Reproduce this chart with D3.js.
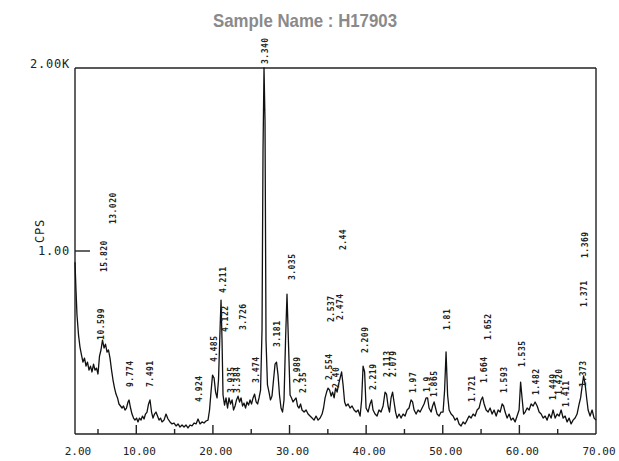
<!DOCTYPE html>
<html>
<head>
<meta charset="utf-8">
<script src="https://cdn.jsdelivr.net/npm/d3@7"></script>
<style>
  body { margin: 0; background: #fff; }
  svg { display: block; }
</style>
</head>
<body>
<div id="chart"></div>
<script>
// 2-theta (degrees) of the scan trace
const twoTheta = [
  2.0, 2.13, 2.26, 2.46, 2.65, 2.85, 3.04, 3.24, 3.44, 3.63, 3.83, 4.02, 4.22, 4.42, 4.61, 4.81, 5.0, 5.2, 5.39, 5.59,
  5.79, 5.98, 6.18, 6.37, 6.57, 6.77, 6.96, 7.16, 7.35, 7.55, 7.74, 7.94, 8.14, 8.33, 8.53, 8.72, 8.92, 9.05, 9.25, 9.44,
  9.64, 9.83, 10.03, 10.22, 10.42, 10.62, 10.81, 11.01, 11.2, 11.4, 11.6, 11.79, 11.99, 12.18, 12.38, 12.57, 12.77, 12.97, 13.16, 13.36,
  13.62, 13.88, 14.14, 14.4, 14.66, 14.92, 15.19, 15.45, 15.71, 15.97, 16.23, 16.49, 16.75, 17.01, 17.27, 17.54, 17.8, 18.06, 18.32, 18.58,
  18.84, 19.1, 19.36, 19.56, 19.75, 19.95, 20.15, 20.35, 20.54, 20.73, 20.93, 21.06, 21.19, 21.32, 21.52, 21.71, 21.91, 22.1, 22.3, 22.5,
  22.69, 22.89, 23.08, 23.28, 23.48, 23.67, 23.87, 24.06, 24.26, 24.45, 24.65, 24.85, 25.04, 25.24, 25.44, 25.64, 25.83, 26.02, 26.22, 26.41,
  26.54, 26.67, 26.8, 26.93, 27.12, 27.32, 27.51, 27.71, 27.91, 28.11, 28.3, 28.5, 28.69, 28.89, 29.09, 29.28, 29.48, 29.67, 29.87, 30.07,
  30.26, 30.46, 30.65, 30.85, 31.05, 31.24, 31.44, 31.63, 31.9, 32.16, 32.42, 32.68, 32.94, 33.2, 33.46, 33.73, 33.99, 34.25, 34.44, 34.64,
  34.84, 35.03, 35.23, 35.43, 35.62, 35.82, 36.01, 36.21, 36.41, 36.6, 36.8, 36.99, 37.19, 37.38, 37.64, 37.9, 38.16, 38.43, 38.69, 38.95,
  39.21, 39.41, 39.6, 39.8, 39.99, 40.25, 40.51, 40.71, 40.9, 41.16, 41.42, 41.68, 41.94, 42.21, 42.47, 42.66, 42.86, 43.05, 43.25, 43.45,
  43.64, 43.84, 44.04, 44.3, 44.56, 44.82, 45.08, 45.34, 45.6, 45.86, 46.06, 46.26, 46.52, 46.78, 47.04, 47.3, 47.56, 47.82, 48.02, 48.21,
  48.48, 48.67, 48.87, 49.06, 49.26, 49.52, 49.78, 50.04, 50.24, 50.43, 50.63, 50.83, 51.09, 51.35, 51.61, 51.87, 52.13, 52.39, 52.65, 52.91,
  53.17, 53.43, 53.7, 53.96, 54.22, 54.48, 54.74, 55.0, 55.2, 55.4, 55.66, 55.92, 56.18, 56.44, 56.7, 56.97, 57.23, 57.49, 57.75, 57.94,
  58.14, 58.4, 58.66, 58.92, 59.18, 59.44, 59.7, 59.96, 60.16, 60.35, 60.55, 60.75, 61.01, 61.27, 61.53, 61.79, 62.05, 62.32, 62.58, 62.84,
  63.1, 63.36, 63.62, 63.88, 64.14, 64.4, 64.67, 64.93, 65.19, 65.45, 65.71, 65.97, 66.23, 66.49, 66.75, 67.01, 67.27, 67.53, 67.8, 67.99,
  68.19, 68.38, 68.58, 68.78, 68.97, 69.23, 69.49, 69.75, 70.0
];

// counts per second, same order as twoTheta
const cps = [
  939, 786, 650, 541, 475, 431, 393, 415, 371, 393, 349, 371, 339, 382, 349, 360, 328, 426, 459, 513,
  470, 491, 448, 459, 415, 349, 295, 251, 218, 197, 164, 153, 142, 153, 131, 142, 175, 186, 142, 109,
  87, 76, 87, 66, 87, 76, 98, 82, 109, 120, 164, 186, 120, 87, 109, 120, 98, 76, 87, 66,
  76, 109, 82, 66, 55, 60, 44, 55, 38, 49, 38, 49, 33, 49, 44, 60, 55, 82, 55, 66,
  60, 71, 76, 131, 229, 322, 306, 229, 197, 295, 568, 732, 513, 213, 158, 197, 142, 197, 164, 186,
  131, 153, 186, 207, 175, 197, 153, 169, 142, 175, 158, 186, 164, 197, 218, 175, 164, 197, 240, 568,
  1551, 2000, 1714, 513, 268, 229, 186, 207, 295, 382, 393, 322, 213, 142, 120, 186, 513, 764, 486, 213,
  197, 175, 186, 197, 153, 142, 164, 131, 120, 131, 109, 98, 87, 76, 98, 76, 87, 109, 142, 197,
  229, 251, 240, 207, 229, 197, 251, 229, 273, 306, 339, 268, 175, 153, 164, 142, 153, 131, 120, 131,
  98, 186, 371, 339, 142, 120, 164, 186, 131, 109, 98, 131, 120, 153, 229, 218, 153, 120, 197, 229,
  175, 120, 87, 109, 87, 109, 98, 131, 142, 186, 175, 131, 109, 131, 120, 142, 164, 197, 197, 142,
  120, 153, 175, 142, 109, 98, 120, 120, 240, 448, 213, 131, 109, 98, 76, 87, 55, 44, 66, 55,
  76, 98, 87, 109, 98, 131, 142, 186, 202, 164, 131, 120, 142, 109, 131, 98, 131, 120, 164, 153,
  120, 87, 109, 76, 87, 66, 98, 131, 284, 197, 109, 120, 142, 131, 164, 153, 175, 153, 120, 109,
  87, 98, 76, 109, 87, 131, 87, 109, 98, 131, 87, 98, 66, 87, 55, 76, 87, 109, 164, 197,
  262, 317, 273, 197, 131, 98, 131, 87, 76
];

// d-spacing labels printed over the peaks
const peakText = [
  "15.820", "13.020", "10.599", "9.774", "7.491", "4.924", "4.485", "4.211", "4.122", "3.935",
  "3.384", "3.726", "3.474", "3.340", "3.181", "3.035", "2.989", "2.35", "2.554", "2.40",
  "2.537", "2.474", "2.44", "2.209", "2.219", "2.113", "2.079", "1.97", "1.9", "1.865",
  "1.81", "1.721", "1.664", "1.652", "1.593", "1.535", "1.482", "1.449", "1.420", "1.411",
  "1.373", "1.371", "1.369"
];
const peakTheta = [
  5.79, 6.96, 5.39, 9.18, 11.79, 18.19, 20.15, 21.32, 21.58, 22.3,
  23.2, 23.93, 25.63, 26.8, 28.37, 30.33, 30.98, 31.77, 35.16, 36.07,
  35.42, 36.6, 36.99, 39.86, 40.9, 42.73, 43.51, 46.13, 47.95, 48.87,
  50.56, 53.83, 55.39, 55.92, 58.0, 60.35, 62.18, 64.4, 65.19, 66.1,
  68.32, 68.45, 68.58
];
const peakBase = [
  885, 1147, 514, 257, 257, 175, 393, 770, 557, 224,
  224, 568, 279, 2022, 475, 841, 279, 224, 295, 251,
  612, 623, 1005, 442, 240, 311, 311, 224, 229, 202,
  568, 175, 279, 514, 224, 366, 213, 186, 213, 148,
  257, 694, 962
];

const xTickValues = [2, 10, 20, 30, 40, 50, 60, 70];
const xTickLabels = ["2.00", "10.00", "20.00", "30.00", "40.00", "50.00", "60.00", "70.00"];
const xMinorTicks = [5, 15, 25, 35, 45, 55, 65];
const xMajorTicks = [10, 20, 30, 40, 50, 60];
const yTickValues = [1000, 2000];
const yTickLabels = ["1.00", "2.00K"];

const W = 619, H = 461;
const m = { left: 75, right: 596, top: 68, bottom: 434 };
const mono = "'DejaVu Sans Mono', 'Liberation Mono', monospace";

const svg = d3.select("#chart").append("svg")
  .attr("width", W)
  .attr("height", H);

const x = d3.scaleLinear().domain([2, 70]).range([m.left, m.right]);
const y = d3.scaleLinear().domain([0, 2000]).range([m.bottom, m.top]);

// title
svg.append("text")
  .attr("x", 305)
  .attr("y", 27)
  .attr("text-anchor", "middle")
  .attr("textLength", 184)
  .attr("lengthAdjust", "spacingAndGlyphs")
  .style("font-family", "'Liberation Sans Narrow', 'Liberation Sans', Arial, sans-serif")
  .style("font-weight", "bold")
  .style("font-size", "19px")
  .style("fill", "#8a8a8a")
  .text("Sample Name : H17903");

// frame
const frame = svg.append("g").attr("stroke", "#222").attr("stroke-width", 1.4).attr("fill", "none");
frame.append("line").attr("x1", m.left).attr("x2", m.right).attr("y1", m.top).attr("y2", m.top);
frame.append("line").attr("x1", m.left).attr("x2", m.right).attr("y1", m.bottom).attr("y2", m.bottom);
frame.append("line").attr("x1", m.left).attr("x2", m.left).attr("y1", m.top).attr("y2", m.bottom);
frame.append("line").attr("x1", m.right).attr("x2", m.right).attr("y1", m.top).attr("y2", m.bottom);

// bottom ticks, pointing into the plot
frame.selectAll(".major").data(xMajorTicks).enter().append("line")
  .attr("x1", d => x(d)).attr("x2", d => x(d))
  .attr("y1", m.bottom).attr("y2", m.bottom - 9);
frame.selectAll(".minor").data(xMinorTicks).enter().append("line")
  .attr("x1", d => x(d)).attr("x2", d => x(d))
  .attr("y1", m.bottom).attr("y2", m.bottom - 5);

// 1.00 tick on left axis
frame.append("line")
  .attr("x1", m.left).attr("x2", m.left + 15)
  .attr("y1", y(1000)).attr("y2", y(1000));

// x labels
svg.selectAll(".xl").data(xTickValues).enter().append("text")
  .attr("x", d => x(d) + 3)
  .attr("y", 455)
  .attr("text-anchor", "middle")
  .style("font-family", mono)
  .style("font-size", "11px")
  .style("fill", "#222")
  .text((d, i) => xTickLabels[i]);

// y labels
svg.selectAll(".yl").data(yTickValues).enter().append("text")
  .attr("x", 70)
  .attr("y", d => d === 2000 ? y(d) : y(d) + 4)
  .attr("text-anchor", "end")
  .style("font-family", mono)
  .style("font-size", "12px")
  .style("letter-spacing", "0.8px")
  .style("fill", "#222")
  .text((d, i) => yTickLabels[i]);

svg.append("text")
  .attr("transform", `translate(44,${y(1000) - 20}) rotate(-90)`)
  .attr("text-anchor", "middle")
  .style("font-family", mono)
  .style("font-size", "12px")
  .style("letter-spacing", "0.8px")
  .style("fill", "#222")
  .text("CPS");

// scan trace
const line = d3.line()
  .x((d, i) => x(twoTheta[i]))
  .y(d => y(d));

svg.append("path")
  .datum(cps)
  .attr("d", line)
  .attr("fill", "none")
  .attr("stroke", "#111")
  .attr("stroke-width", 1.3)
  .attr("stroke-linejoin", "round");

// peak labels, vertical
svg.selectAll(".pk").data(peakText).enter().append("text")
  .attr("transform", (d, i) => `translate(${x(peakTheta[i]) + 3},${y(peakBase[i])}) rotate(-90)`)
  .style("font-family", mono)
  .style("font-size", "8px")
  .style("font-weight", "bold")
  .style("letter-spacing", "0.5px")
  .style("fill", "#222")
  .text(d => d);
</script>
</body>
</html>
